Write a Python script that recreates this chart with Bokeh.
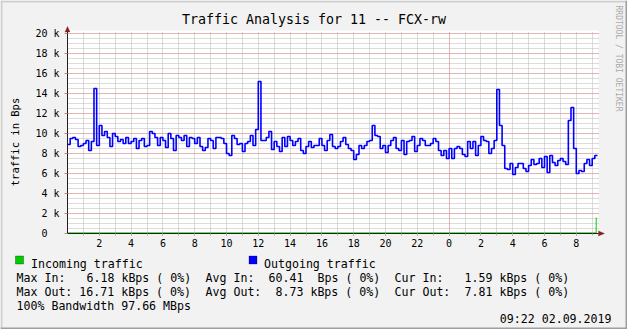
import re
from math import pi
from bokeh.plotting import figure
from bokeh.models import (Range1d, FixedTicker, Grid, Label, BoxAnnotation,
                          PolyAnnotation, ColumnDataSource)
from bokeh.embed import file_html
from bokeh.resources import INLINE

# ---------------- data ----------------
title_text = "Traffic Analysis for 11 -- FCX-rw"
y_axis_title = "traffic in Bps"
watermark = "RRDTOOL / TOBI OETIKER"
timestamp = "09:22 02.09.2019"

y_ticks = [0, 2, 4, 6, 8, 10, 12, 14, 16, 18, 20]
y_tick_labels = ["0\u00a0\u00a0", "2 k", "4 k", "6 k", "8 k", "10 k", "12 k",
                 "14 k", "16 k", "18 k", "20 k"]
x_ticks = [2, 4, 6, 8, 10, 12, 14, 16, 18, 20, 22, 24, 26, 28, 30, 32]
x_tick_labels = ["2", "4", "6", "8", "10", "12", "14", "16", "18", "20", "22",
                 "0", "2", "4", "6", "8"]

sample_minutes = 10  # one value every 10 minutes, starting at midnight
out_traffic_k = [
    # 00:00 - 05:30
    8.9, 9.5, 9.6, 9.4, 8.7, 8.8, 9.0, 9.3, 8.3, 9.2, 14.5, 8.8, 10.8, 9.8, 10.2, 9.6, 8.7,
    10.0, 9.7, 9.2, 9.4, 9.0, 9.6, 9.0, 9.2, 9.5, 8.5, 9.3, 9.5, 8.7, 8.8, 10.2, 10.0, 9.6,
    # 05:40 - 11:00
    8.8, 9.6, 9.3, 8.6, 10.0, 9.5, 8.3, 9.8, 9.6, 9.3, 9.8, 8.7, 9.6, 9.5, 9.0, 9.6, 8.7,
    8.3, 8.6, 9.5, 9.3, 8.5, 9.6, 9.6, 9.5, 9.0, 8.0, 7.8, 9.8, 9.5, 8.9, 9.0, 8.2,
    # 11:10 - 16:40
    9.0, 9.2, 9.8, 8.8, 10.4, 15.2, 9.3, 9.3, 9.6, 10.2, 8.4, 9.2, 8.7, 8.2, 9.6, 8.7, 9.7,
    9.3, 8.8, 9.2, 9.5, 8.3, 8.0, 8.7, 9.2, 8.6, 8.8, 8.8, 9.5, 8.8, 8.3, 9.3, 9.9, 8.7,
    # 16:50 - 22:20
    8.5, 8.7, 9.2, 9.6, 8.9, 8.5, 8.3, 7.4, 7.9, 8.8, 8.5, 8.8, 9.2, 9.3, 10.8, 9.8, 9.7,
    8.5, 8.8, 8.1, 8.8, 9.3, 9.6, 8.5, 8.3, 9.3, 7.9, 9.2, 9.3, 9.7, 8.2, 8.8, 9.5, 9.3,
    # 22:30 - 03:50
    8.8, 8.8, 9.0, 9.5, 9.2, 8.3, 7.8, 8.3, 7.5, 8.5, 7.5, 8.5, 8.7, 8.5, 7.9, 7.7, 9.2,
    8.5, 9.2, 7.8, 8.8, 9.7, 9.3, 9.2, 8.0, 8.5, 9.3, 14.4, 10.8, 8.8, 6.5, 6.4, 7.0,
    # 04:00 - 09:20
    5.9, 6.6, 7.0, 7.0, 6.5, 6.2, 6.8, 7.4, 6.9, 7.0, 7.5, 6.6, 7.7, 6.1, 7.8, 7.1, 6.8,
    7.3, 7.5, 7.2, 6.9, 11.3, 12.6, 8.5, 6.0, 6.3, 6.2, 7.0, 7.4, 6.8, 7.5, 7.8, 7.8,
]
in_hours = [0.0, 33.25]
in_traffic_k = [0.06, 1.59]

legend_labels = ["Incoming traffic", "Outgoing traffic"]
legend_colors = ["#00CC00", "#0000FF"]
stats_lines = [
    "Max In:   6.18 kBps ( 0%)  Avg In:  60.41  Bps ( 0%)  Cur In:   1.59 kBps ( 0%)",
    "Max Out: 16.71 kBps ( 0%)  Avg Out:  8.73 kBps ( 0%)  Cur Out:  7.81 kBps ( 0%)",
    "100% Bandwidth 97.66 MBps",
]

# ---------------- layout ----------------
W, H = 627, 329
FL, FB = 67, 233           # pixel position of (0 h, 0 k)
PXH, PXK = 15.9, 10.0      # pixels per hour, pixels per k
X_END, Y_END = 33.4, 20.3  # extent of the plot area in data units
MONO = "DejaVu Sans Mono"
BG = "#F2F2F2"
AXIS = "#1F1F1F"
GRID = "#B8B8B8"
MGRID = "#E98E8E"
ARROW = "#801F1F"


def sx(X):
    return X


def sy(Y):
    return H - Y


hours = [i * sample_minutes / 60 for i in range(len(out_traffic_k))]
hour_ticks = list(range(1, 34))
half_k = [0.5 * i for i in range(1, 41)]

# the frame covers the whole canvas; axes are pinned with fixed_location
p = figure(width=W, height=H, output_backend="svg", toolbar_location=None,
           x_range=Range1d(-FL / PXH, (W - FL) / PXH),
           y_range=Range1d(-(H - FB) / PXK, FB / PXK),
           min_border=0, background_fill_color=BG, border_fill_color=BG, title=None)
p.outline_line_color = None
p.grid.visible = False

# white canvas of the graph
p.add_layout(BoxAnnotation(left=0, right=X_END, bottom=0, top=Y_END, level="image",
                           fill_color="white", fill_alpha=1, line_color=None))

# grids
grid_specs = [
    (0, hour_ticks, GRID, (0, Y_END - 0.15)),
    (1, half_k, GRID, (0, X_END)),
    (0, [24], MGRID, (0, Y_END - 0.15)),
    (1, y_ticks[1:], MGRID, (0, X_END)),
]
has_cross = "cross_bounds" in Grid.properties()
for dim, ticks, col, cross in grid_specs:
    if has_cross:
        p.add_layout(Grid(dimension=dim, ticker=FixedTicker(ticks=ticks),
                          cross_bounds=cross, grid_line_color=col,
                          grid_line_dash="1 1", grid_line_width=1))
    else:
        if dim == 0:
            p.segment(x0=ticks, x1=ticks, y0=[cross[0]] * len(ticks),
                      y1=[cross[1]] * len(ticks), line_color=col,
                      line_dash="1 1", level="underlay")
        else:
            p.segment(y0=ticks, y1=ticks, x0=[cross[0]] * len(ticks),
                      x1=[cross[1]] * len(ticks), line_color=col,
                      line_dash="1 1", level="underlay")

# axes (pinned at the origin of the graph)
xa = p.xaxis[0]
xa.fixed_location = 0
xa.bounds = (0, X_END)
xa.ticker = FixedTicker(ticks=x_ticks, minor_ticks=hour_ticks)
xa.major_label_overrides = dict(zip(x_ticks, x_tick_labels))
xa.axis_line_color = AXIS
xa.major_tick_line_color = "#8F8F8F"
xa.minor_tick_line_color = "#AFAFAF"
xa.major_tick_out = 2
xa.major_tick_in = 0
xa.minor_tick_out = 2
xa.minor_tick_in = 0
xa.major_label_standoff = 3
xa.major_label_text_font = MONO
xa.major_label_text_font_size = "10px"
xa.major_label_text_color = "#000000"

ya = p.yaxis[0]
ya.fixed_location = 0
ya.bounds = (0, Y_END)
ya.ticker = FixedTicker(ticks=y_ticks, minor_ticks=[])
ya.major_label_overrides = dict(zip(y_ticks, y_tick_labels))
ya.axis_line_color = AXIS
ya.major_tick_line_color = "#D08080"
ya.major_tick_out = 3
ya.major_tick_in = 0
ya.minor_tick_out = 0
ya.minor_tick_in = 0
ya.major_label_standoff = 5
ya.major_label_text_font = MONO
ya.major_label_text_font_size = "10px"
ya.major_label_text_color = "#000000"

# data lines
src_out = ColumnDataSource(dict(h=hours, v=out_traffic_k))
src_in = ColumnDataSource(dict(h=in_hours, v=in_traffic_k))
p.step("h", "v", source=src_in, mode="after", line_color=legend_colors[0], line_width=1)
p.step("h", "v", source=src_out, mode="after", line_color=legend_colors[1], line_width=1.6)

# axis arrows
p.add_layout(PolyAnnotation(xs=[sx(64.5), sx(69.5), sx(67)], ys=[sy(31.5), sy(31.5), sy(26)],
                            xs_units="screen", ys_units="screen",
                            fill_color=ARROW, fill_alpha=1, line_color=ARROW))
p.add_layout(PolyAnnotation(xs=[sx(598), sx(598), sx(604)], ys=[sy(230.5), sy(235.5), sy(233)],
                            xs_units="screen", ys_units="screen",
                            fill_color=ARROW, fill_alpha=1, line_color=ARROW))


def box(x0, y0, x1, y1, fill, line=None):
    p.add_layout(BoxAnnotation(left=sx(x0), right=sx(x1), top=sy(y0), bottom=sy(y1),
                               left_units="screen", right_units="screen",
                               top_units="screen", bottom_units="screen",
                               fill_color=fill, fill_alpha=1, line_color=line,
                               line_width=1, level="overlay"))


def text(X, Y, s, size="11.6px", align="left", baseline="alphabetic",
         color="#000000", angle=0.0):
    p.add_layout(Label(x=sx(X), y=sy(Y), x_units="screen", y_units="screen", text=s,
                       text_font=MONO, text_font_size=size, text_align=align,
                       text_baseline=baseline, text_color=color, angle=angle))


# 3D frame of the image
box(0, 0, W, 2, "#CFCFCF")
box(0, 0, 2, H, "#CFCFCF")
box(0, H - 2, W, H, "#9E9E9E")
box(W - 2, 0, W, H, "#9E9E9E")

# titles
text(313.5, 18.5, title_text, size="13.3px", align="center")
text(14, 141.5, y_axis_title, size="10.5px", align="center", angle=pi / 2)
text(617.5, 5, watermark, size="8px", baseline="middle", color="#AAAAAA", angle=-pi / 2)

# legend
box(15, 255.5, 23, 263.5, legend_colors[0], "#000000")
box(248.5, 255.5, 256.5, 263.5, legend_colors[1], "#000000")
text(30.5, 263, legend_labels[0])
text(263.5, 263, legend_labels[1])

CHAR = 7.0
baselines = [277, 291, 305]
for line, yb in zip(stats_lines, baselines):
    for m in re.finditer(r"\S+(?: \S+)*", line):
        text(16 + m.start() * CHAR, yb, m.group())

text(611, 318.5, timestamp, align="right")

open("out.html", "w").write(file_html(p, INLINE))
